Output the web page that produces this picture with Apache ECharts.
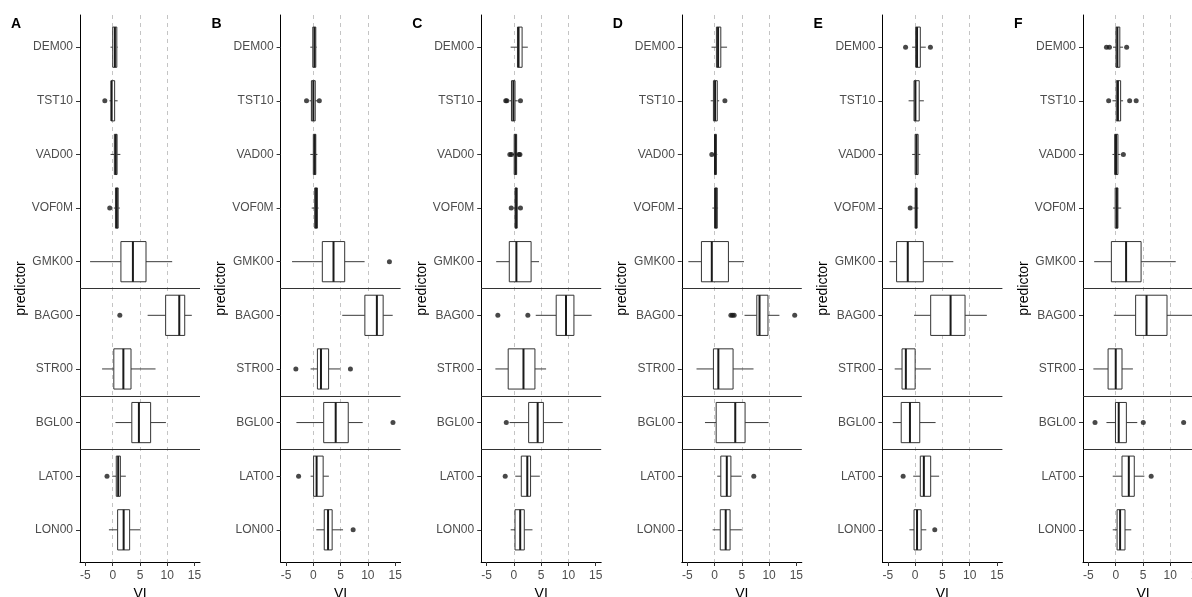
<!DOCTYPE html>
<html>
<head>
<meta charset="utf-8">
<script src="https://cdn.jsdelivr.net/npm/echarts@6/dist/echarts.min.js"></script>
<style>
  html, body { margin: 0; padding: 0; background: #fff; }
  #chart { width: 1192px; height: 597px; }
</style>
</head>
<body>
<div id="chart"></div>
<script>
const predictors = ['DEM00', 'TST10', 'VAD00', 'VOF0M', 'GMK00', 'BAG00', 'STR00', 'BGL00', 'LAT00', 'LON00']
const panelLabels = ['A', 'B', 'C', 'D', 'E', 'F']
const xTicks = [-5, 0, 5, 10, 15]
const refLines = [0, 5, 10]
const groupBreaks = [5.5, 7.5, 8.5] // between GMK00/BAG00, STR00/BGL00, BGL00/LAT00

// [min, q1, median, q3, max] for each predictor
const boxA = [
  [-0.4, 0, 0.4, 0.75, 0.9],
  [-0.6, -0.3, -0.2, 0.35, 0.9],
  [-0.4, 0.3, 0.55, 0.8, 1.4],
  [0.2, 0.5, 0.75, 1.0, 1.3],
  [-4.15, 1.5, 3.7, 6.1, 10.9],
  [6.4, 9.7, 12.2, 13.2, 14.5],
  [-1.95, 0.2, 1.95, 3.35, 7.85],
  [0.5, 3.5, 4.8, 6.95, 9.75],
  [-0.1, 0.65, 1.0, 1.4, 2.4],
  [-0.7, 0.9, 2.0, 3.1, 5.0]
]
const boxB = [
  [-0.55, -0.1, 0.2, 0.45, 0.6],
  [-0.7, -0.35, 0, 0.35, 0.7],
  [-0.55, 0, 0.25, 0.45, 0.75],
  [-0.3, 0.25, 0.5, 0.75, 0.95],
  [-3.9, 1.65, 3.7, 5.75, 9.4],
  [5.3, 9.45, 11.65, 12.8, 14.55],
  [-0.5, 0.75, 1.4, 2.8, 4.95],
  [-3.1, 1.9, 4.1, 6.4, 9.05],
  [-0.5, 0.05, 0.6, 1.8, 2.85],
  [0.55, 2.0, 2.7, 3.45, 5.45]
]
const boxC = [
  [-0.6, 0.65, 0.85, 1.5, 2.55],
  [-0.8, -0.45, -0.1, 0.2, 0.7],
  [-0.3, 0.05, 0.3, 0.5, 0.7],
  [-0.1, 0.2, 0.4, 0.6, 0.9],
  [-3.25, -0.85, 0.45, 3.15, 4.6],
  [4.0, 7.75, 9.55, 11.0, 14.25],
  [-3.4, -1.05, 1.75, 3.85, 5.9],
  [-0.8, 2.7, 4.35, 5.4, 8.95],
  [0.25, 1.35, 2.45, 3.05, 4.75],
  [-0.6, 0.2, 1.15, 1.9, 3.4]
]
const boxD = [
  [-0.55, 0.35, 0.65, 1.15, 2.3],
  [-0.7, -0.2, 0.1, 0.5, 0.85],
  [-0.2, 0, 0.1, 0.35, 0.5],
  [-0.4, 0, 0.25, 0.5, 0.65],
  [-4.8, -2.4, -0.5, 2.55, 5.4],
  [5.5, 7.75, 8.25, 9.8, 11.9],
  [-3.3, -0.2, 0.7, 3.4, 7.15],
  [-1.75, 0.3, 3.8, 5.6, 9.9],
  [0.5, 1.15, 2.25, 3.0, 4.95],
  [-0.35, 1.05, 2.05, 2.85, 5.0]
]
const boxE = [
  [-0.55, 0.1, 0.35, 0.95, 1.95],
  [-1.2, -0.2, 0.05, 0.75, 1.6],
  [-0.55, 0, 0.25, 0.55, 0.95],
  [-0.35, 0, 0.2, 0.35, 0.6],
  [-4.7, -3.4, -1.35, 1.5, 7.0],
  [-0.2, 2.85, 6.5, 9.15, 13.15],
  [-3.75, -2.4, -1.7, 0, 2.9],
  [-4.1, -2.55, -0.95, 0.85, 3.75],
  [-0.35, 0.95, 1.6, 2.85, 4.4],
  [-1.05, -0.2, 0.35, 1.1, 2.05]
]
const boxF = [
  [-0.5, 0.05, 0.3, 0.75, 1.35],
  [-0.6, 0.1, 0.4, 0.9, 1.35],
  [-0.6, -0.2, 0.05, 0.4, 0.85],
  [-0.5, -0.1, 0.2, 0.4, 1.0],
  [-3.95, -0.8, 1.9, 4.65, 11.0],
  [-0.35, 3.65, 5.65, 9.4, 15.5],
  [-4.1, -1.4, 0, 1.15, 3.15],
  [-1.7, -0.05, 0.55, 1.95, 3.95],
  [-0.55, 1.15, 2.4, 3.4, 5.25],
  [-0.55, 0.25, 0.8, 1.7, 2.85]
]

// outliers: [predictor index, value]
const outA = [[1, -1.45], [3, -0.55], [5, 1.3], [8, -1.05]]
const outB = [[1, -1.25], [1, 1.1], [4, 13.95], [6, -3.2], [6, 6.8], [7, 14.6], [8, -2.7], [9, 7.3]]
const outC = [[1, -1.5], [1, -1.3], [1, 1.2], [2, -0.75], [2, -0.45], [2, 0.9], [2, 1.1], [3, -0.5], [3, 1.2], [5, -2.95], [5, 2.55], [7, -1.4], [8, -1.6]]
const outD = [[1, 1.9], [2, -0.5], [5, 3.0], [5, 3.3], [5, 3.6], [5, 14.7], [8, 7.2]]
const outE = [[0, -1.75], [0, 2.8], [3, -0.9], [8, -2.2], [9, 3.6]]
const outF = [[0, -1.7], [0, -1.15], [0, 2.0], [1, -1.3], [1, 2.55], [1, 3.75], [2, 1.4], [7, -3.8], [7, 5.05], [7, 12.45], [8, 6.5]]

const boxes = [boxA, boxB, boxC, boxD, boxE, boxF]
const outliers = [outA, outB, outC, outD, outE, outF]

const FONT = '"Liberation Sans", Arial, sans-serif'
const yTicks = predictors.map((p, k) => k + 1)

function renderBox (params, api) {
  const y = api.value(0)
  const p = [1, 2, 3, 4, 5].map(d => api.coord([api.value(d), y]))
  const h = api.size([0, 0.75])[1]
  const line = { stroke: '#3a3a3a', lineWidth: 1 }
  return {
    type: 'group',
    children: [
      { type: 'line', shape: { x1: p[0][0], y1: p[0][1], x2: p[1][0], y2: p[1][1] }, style: line },
      { type: 'line', shape: { x1: p[3][0], y1: p[3][1], x2: p[4][0], y2: p[4][1] }, style: line },
      { type: 'rect', shape: { x: p[1][0], y: p[1][1] - h / 2, width: p[3][0] - p[1][0], height: h }, style: { fill: '#fff', stroke: '#333', lineWidth: 1 } },
      { type: 'line', shape: { x1: p[2][0], y1: p[2][1] - h / 2, x2: p[2][0], y2: p[2][1] + h / 2 }, style: { stroke: '#1a1a1a', lineWidth: 2 } }
    ]
  }
}

const grid = []
const xAxis = []
const yAxis = []
const series = []
const title = []

panelLabels.forEach((lab, i) => {
  const left = 80 + i * 200.6
  grid.push({ left: left, top: 15, width: 120, height: 547, containLabel: false, outerBoundsMode: 'none' })
  title.push({ text: lab, left: left - 74, top: 12, textStyle: { fontSize: 14, fontWeight: 'bold', color: '#000', fontFamily: FONT } })
  xAxis.push({
    gridIndex: i,
    type: 'value',
    min: -6,
    max: 16,
    name: 'VI',
    nameLocation: 'middle',
    nameGap: 19,
    nameTextStyle: { fontSize: 14, color: '#000', fontFamily: FONT },
    axisLine: { show: true, onZero: false, lineStyle: { color: '#000', width: 1 } },
    axisTick: { show: true, length: 4, customValues: xTicks, lineStyle: { color: '#333' } },
    axisLabel: { customValues: xTicks, color: '#4d4d4d', fontSize: 12, margin: 8, fontFamily: FONT },
    splitLine: { show: false }
  })
  yAxis.push({
    gridIndex: i,
    type: 'value',
    min: 0.4,
    max: 10.6,
    inverse: true,
    name: 'predictor',
    nameLocation: 'middle',
    nameRotate: 90,
    nameGap: 48,
    nameTextStyle: { fontSize: 14, color: '#000', fontFamily: FONT },
    axisLine: { show: true, onZero: false, lineStyle: { color: '#000', width: 1 } },
    axisTick: { show: true, length: 4, customValues: yTicks, lineStyle: { color: '#333' } },
    axisLabel: {
      customValues: yTicks,
      color: '#4d4d4d',
      fontSize: 12,
      margin: 7,
      fontFamily: FONT,
      formatter: v => predictors[Math.round(v) - 1]
    },
    splitLine: { show: false }
  })
  series.push({
    type: 'line',
    xAxisIndex: i,
    yAxisIndex: i,
    data: [],
    z: 1,
    markLine: {
      silent: true,
      z: 1,
      symbol: 'none',
      label: { show: false },
      data: refLines.map(v => ({ xAxis: v, lineStyle: { type: [4, 4], color: '#c4c4c4', width: 1 } }))
        .concat(groupBreaks.map(v => ({ yAxis: v, lineStyle: { type: 'solid', color: '#333', width: 1 } })))
    }
  })
  series.push({
    type: 'custom',
    xAxisIndex: i,
    yAxisIndex: i,
    z: 3,
    renderItem: renderBox,
    encode: { x: [1, 2, 3, 4, 5], y: 0 },
    data: boxes[i].map((b, k) => [k + 1].concat(b))
  })
  series.push({
    type: 'scatter',
    xAxisIndex: i,
    yAxisIndex: i,
    z: 4,
    symbolSize: 5,
    itemStyle: { color: '#1a1a1a' },
    data: outliers[i].map(o => [o[1], o[0] + 1])
  })
})

const chart = echarts.init(document.getElementById('chart'))
chart.setOption({
  animation: false,
  textStyle: { fontFamily: FONT },
  title: title,
  grid: grid,
  xAxis: xAxis,
  yAxis: yAxis,
  series: series
})
</script>
</body>
</html>
